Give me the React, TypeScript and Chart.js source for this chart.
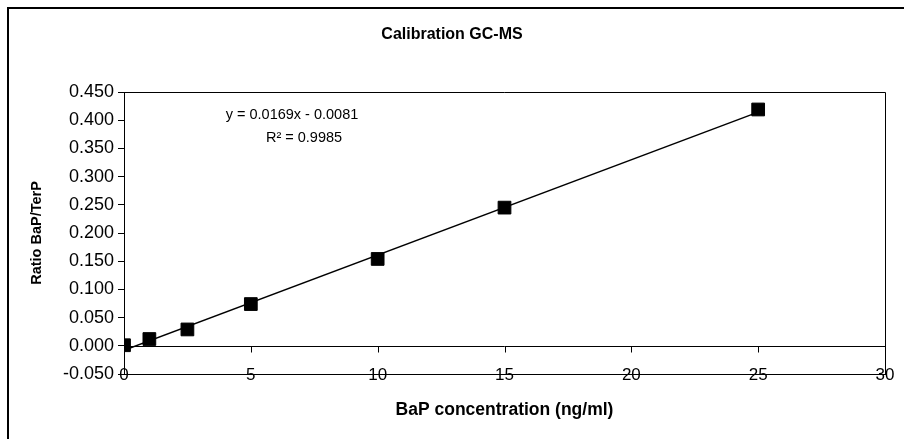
import React, { useEffect, useRef } from 'react';
import { Chart, registerables } from 'chart.js';

Chart.register(...registerables);

// ---- data ----
const concentrations = [0, 1, 2.5, 5, 10, 15, 25];
const ratios = [0.001, 0.012, 0.029, 0.074, 0.154, 0.245, 0.419];
const trendX = [0, 25];
const trendY = [-0.0081, 0.4144];
const yMin = -0.05;
const yMax = 0.45;
const yStep = 0.05;
const xMin = 0;
const xMax = 30;
const xStep = 5;
const titleText = 'Calibration GC-MS';
const xTitleText = 'BaP concentration (ng/ml)';
const yTitleText = 'Ratio BaP/TerP';
const equationLines = ['y = 0.0169x - 0.0081', 'R\u00B2 = 0.9985'];

const FONT = 'Arial, "Liberation Sans", sans-serif';

const framePlugin = {
  id: 'excelFrame',
  beforeDraw(chart: any) {
    const ctx = chart.ctx;
    ctx.save();
    ctx.fillStyle = '#ffffff';
    ctx.fillRect(0, 0, chart.width, chart.height);
    ctx.fillStyle = '#000000';
    ctx.fillRect(7, 7, 2, chart.height - 7);
    ctx.fillRect(7, 7, chart.width - 7, 2);
    ctx.restore();
  },
  beforeDatasetsDraw(chart: any) {
    const ctx = chart.ctx;
    const { top, right, left, bottom } = chart.chartArea;
    const xs = chart.scales.x;
    const ys = chart.scales.y;
    ctx.save();
    ctx.strokeStyle = '#000000';
    ctx.lineWidth = 1;
    ctx.beginPath();
    ctx.moveTo(left, top + 0.5);
    ctx.lineTo(Math.round(right) + 0.5, top + 0.5);
    ctx.lineTo(Math.round(right) + 0.5, bottom);
    ctx.stroke();
    // horizontal axis crossing at y = 0
    const y0 = Math.round(ys.getPixelForValue(0)) + 0.5;
    ctx.beginPath();
    ctx.moveTo(left, y0);
    ctx.lineTo(right, y0);
    xs.ticks.forEach((t: any) => {
      const px = Math.round(xs.getPixelForValue(t.value)) + 0.5;
      ctx.moveTo(px, y0);
      ctx.lineTo(px, y0 + 6);
    });
    ctx.stroke();
    // trendline label
    ctx.fillStyle = '#000000';
    ctx.font = '14.5px ' + FONT;
    ctx.textAlign = 'center';
    ctx.textBaseline = 'middle';
    ctx.fillText(equationLines[0], 292, 115);
    ctx.fillText(equationLines[1], 304, 138);
    ctx.restore();
  },
};

export default function App() {
  const ref = useRef<HTMLCanvasElement | null>(null);
  useEffect(() => {
    if (!ref.current) return;
    const chart = new Chart(ref.current, {
      type: 'scatter',
      data: {
        datasets: [
          {
            label: 'Ratio',
            data: concentrations.map((x, i) => ({ x, y: ratios[i] })),
            pointStyle: 'rect',
            pointRadius: 9,
            pointHoverRadius: 9,
            backgroundColor: '#000000',
            borderColor: '#000000',
            borderWidth: 1,
            showLine: false,
          },
          {
            label: 'Linear',
            data: trendX.map((x, i) => ({ x, y: trendY[i] })),
            showLine: true,
            pointRadius: 0,
            borderColor: '#000000',
            borderWidth: 1.5,
            fill: false,
          },
        ],
      },
      options: {
        animation: false,
        responsive: false,
        devicePixelRatio: 1,
        layout: { padding: { left: 19, right: 19, top: 8, bottom: 0 } },
        plugins: {
          legend: { display: false },
          tooltip: { enabled: false },
          title: {
            display: true,
            text: titleText,
            color: '#000000',
            font: { family: FONT, size: 16, weight: 'bold' },
            padding: { top: 17, bottom: 47.8 },
          },
        },
        scales: {
          x: {
            type: 'linear',
            min: xMin,
            max: xMax,
            afterFit: (s: any) => {
              s.height = 65;
            },
            ticks: {
              stepSize: xStep,
              color: '#000000',
              font: { family: FONT, size: 17 },
              mirror: true,
              padding: -11.5,
              maxRotation: 0,
            },
            grid: { display: false, drawTicks: false },
            border: { display: true, color: '#000000', width: 1 },
            title: {
              display: true,
              text: xTitleText,
              color: '#000000',
              font: { family: FONT, size: 17.5, weight: 'bold' },
              padding: { top: 0, bottom: 18 },
            },
          },
          y: {
            type: 'linear',
            min: yMin,
            max: yMax,
            afterFit: (s: any) => {
              s.width = 105;
            },
            ticks: {
              stepSize: yStep,
              color: '#000000',
              font: { family: FONT, size: 18 },
              padding: 4,
              callback: (v: any) => Number(v).toFixed(3),
            },
            grid: {
              display: true,
              drawOnChartArea: false,
              drawTicks: true,
              tickLength: 6,
              color: '#000000',
            },
            border: { display: true, color: '#000000', width: 1 },
            title: {
              display: true,
              text: yTitleText,
              color: '#000000',
              font: { family: FONT, size: 14.5, weight: 'bold' },
              padding: { top: 9, bottom: 0 },
            },
          },
        },
      },
      plugins: [framePlugin],
    } as any);
    return () => chart.destroy();
  }, []);
  return (
    <div style={{ position: 'fixed', left: 0, top: 0, width: 904, height: 439 }}>
      <canvas ref={ref} width={904} height={439} style={{ display: 'block' }} />
    </div>
  );
}
